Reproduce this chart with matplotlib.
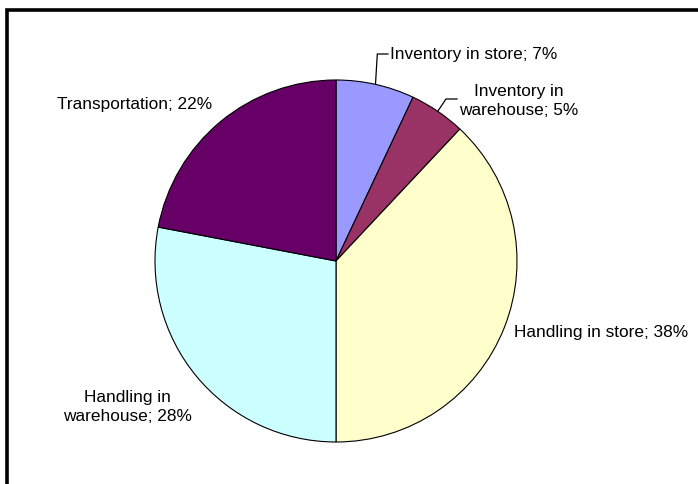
import matplotlib
matplotlib.use('Agg')
import matplotlib.pyplot as plt
import numpy as np

categories = ['Inventory in store', 'Inventory in\nwarehouse', 'Handling in store',
              'Handling in\nwarehouse', 'Transportation']
shares = [7, 5, 38, 28, 22]
colors = ['#9999FF', '#993366', '#FFFFCC', '#CCFFFF', '#660066']

W, H = 698, 485
CX, CY, R = 336, 262, 181   # pie centre / radius in pixels (from top-left)


def px(x, y):
    """pixel position (top-left origin) -> pie data coordinates"""
    return (x - CX) / R, (CY - y) / R


fig = plt.figure(figsize=(W / 100, H / 100), dpi=100)
fig.patch.set_facecolor('white')

# outer frame, only left and top edges are visible in the crop
frame = fig.add_axes([0, 0, 1, 1])
frame.set_xlim(0, W)
frame.set_ylim(H, 0)
frame.axis('off')
frame.plot([6.5, 6.5, W], [H, 10.5, 10.5], color='black', lw=2.6, solid_joinstyle='miter')

ax = fig.add_axes([(CX - R) / W, (H - CY - R) / H, 2 * R / W, 2 * R / H])
wedges, _ = ax.pie(shares, colors=colors, startangle=90, counterclock=False, radius=1,
                   wedgeprops=dict(edgecolor='black', linewidth=0.8))
ax.set_xlim(-1, 1)
ax.set_ylim(-1, 1)
ax.axis('off')

font = dict(family='Liberation Sans', fontsize=12.4, color='black')
labels = [f'{c}; {v}%' for c, v in zip(categories, shares)]

# label anchors (pixels) and alignment
anchors = [(390, 55, 'left', 'center'),
           (519, 101, 'center', 'center'),
           (514, 333, 'left', 'center'),
           (127, 407, 'center', 'center'),
           (57, 105, 'left', 'center')]
for lab, (x, y, ha, va) in zip(labels, anchors):
    tx, ty = px(x, y)
    ax.text(tx, ty, lab, ha=ha, va=va, multialignment='center',
            linespacing=1.3, clip_on=False, **font)

# leader lines for the two small slices
cum = np.cumsum([0] + shares)
def edge(i):
    a = np.deg2rad(90 - 3.6 * (cum[i] + shares[i] / 2))
    return np.cos(a), np.sin(a)

ex, ey = edge(0)
_, ty = px(0, 55)
tx, _ = px(388, 0)
ax.plot([ex, ex + 0.01, tx], [ey, ty, ty], color='black', lw=0.9, clip_on=False)

ex, ey = edge(1)
bx, by = px(446, 100)
tx, _ = px(457, 0)
ax.plot([ex, bx, tx], [ey, by, by], color='black', lw=0.9, clip_on=False)

fig.savefig('out.png', dpi=100, facecolor='white')
